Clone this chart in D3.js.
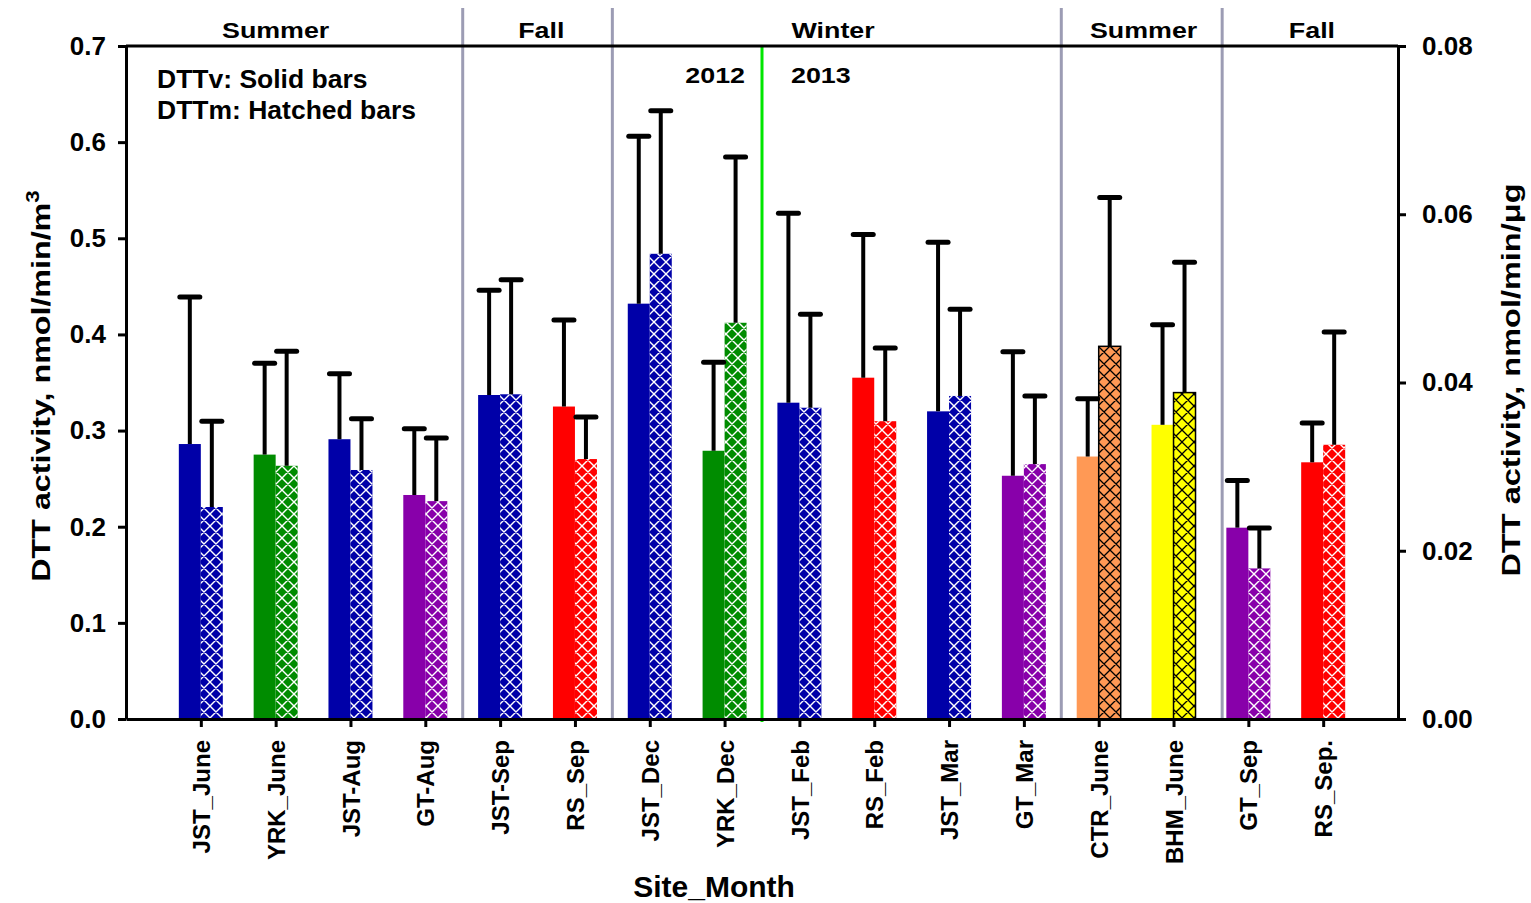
<!DOCTYPE html>
<html>
<head>
<meta charset="utf-8">
<script src="https://cdn.jsdelivr.net/npm/d3@7"></script>
<style>
    body { margin: 0; background: #fff; }
    text { font-family: "Liberation Sans", Arial, sans-serif; font-weight: bold; fill: #000; }
</style>
</head>
<body>
<div id="chart"></div>
<script>
const MARGIN = { top: 46, right: 133, bottom: 184, left: 126 };
const width = 1531;
const height = 903;

// site / month categories
const sites = ["JST_June", "YRK_June", "JST-Aug", "GT-Aug", "JST-Sep", "RS_Sep", "JST_Dec", "YRK_Dec",
    "JST_Feb", "RS_Feb", "JST_Mar", "GT_Mar", "CTR_June", "BHM_June", "GT_Sep", "RS_Sep."];

// DTTv (volume normalized, left axis) - solid bars
const dttvMean = [0.286, 0.275, 0.291, 0.233, 0.337, 0.325, 0.432, 0.279, 0.329, 0.355, 0.320, 0.253, 0.273, 0.306, 0.199, 0.267];
const dttvSd   = [0.153, 0.095, 0.068, 0.069, 0.109, 0.090, 0.174, 0.092, 0.197, 0.149, 0.176, 0.129, 0.060, 0.104, 0.049, 0.041];

// DTTm (mass normalized, right axis) - hatched bars
const dttmMean = [0.0252, 0.0301, 0.0296, 0.0259, 0.0386, 0.0309, 0.0553, 0.0471, 0.0370, 0.0354, 0.0384, 0.0303, 0.0443, 0.0388, 0.0179, 0.0326];
const dttmSd   = [0.0102, 0.0136, 0.0061, 0.0075, 0.0136, 0.0050, 0.0170, 0.0197, 0.0111, 0.0087, 0.0103, 0.0081, 0.0177, 0.0155, 0.0048, 0.0134];

const barColors = ["#0000a8", "#008c00", "#0000a8", "#8800aa", "#0000a8", "#ff0000", "#0000a8", "#008c00",
    "#0000a8", "#ff0000", "#0000a8", "#8800aa", "#ff9955", "#ffff00", "#8800aa", "#ff0000"];
// hatch ink: white lines on most bars, black lines (+ outline) on the light ones
const hatchInk = ["white", "white", "white", "white", "white", "white", "white", "white",
    "white", "white", "white", "white", "black", "black", "white", "white"];

const leftTicks = [0, 0.1, 0.2, 0.3, 0.4, 0.5, 0.6, 0.7];
const rightTicks = [0, 0.02, 0.04, 0.06, 0.08];

// season annotation (positions in category index units)
const seasonLabels = ["Summer", "Fall", "Winter", "Summer", "Fall"];
const seasonPos = [1.0, 4.55, 8.45, 12.6, 14.85];
const seasonBreaks = [3.5, 5.5, 11.5, 13.65];
const yearBreak = 7.5;
const yearLabels = ["2012", "2013"];
const legendLines = ["DTTv: Solid bars", "DTTm: Hatched bars"];

const BAR_W = 22;

const innerWidth = width - MARGIN.left - MARGIN.right;
const innerHeight = height - MARGIN.top - MARGIN.bottom;

const svg = d3.select("#chart").append("svg")
    .attr("width", width)
    .attr("height", height);

const defs = svg.append("defs");
["white", "black"].forEach((ink) => {
    const p = defs.append("pattern")
        .attr("id", `hatch-${ink}`)
        .attr("patternUnits", "userSpaceOnUse")
        .attr("width", 12)
        .attr("height", 12);
    p.append("path")
        .attr("d", "M0,0L12,12M12,0L0,12M-1,1L1,-1M11,13L13,11M-1,11L1,13M11,-1L13,1")
        .style("stroke", ink)
        .style("stroke-width", ink === "white" ? 1.4 : 1.3)
        .style("fill", "none");
});

const inner = svg.append("g")
    .attr("transform", `translate(${MARGIN.left},${MARGIN.top})`);

const x = d3.scaleLinear().domain([-1, sites.length]).range([0, innerWidth]);
const yL = d3.scaleLinear().domain([0, 0.7]).range([innerHeight, 0]);
const yR = d3.scaleLinear().domain([0, 0.08]).range([innerHeight, 0]);

// season separators
inner.selectAll("line.season-sep")
    .data(seasonBreaks)
    .join("line")
    .attr("class", "season-sep")
    .attr("x1", (d) => x(d)).attr("x2", (d) => x(d))
    .attr("y1", -38).attr("y2", innerHeight)
    .style("stroke", "#9c9cb4")
    .style("stroke-width", 3);

inner.append("line")
    .attr("x1", x(yearBreak)).attr("x2", x(yearBreak))
    .attr("y1", 0).attr("y2", innerHeight + 3)
    .style("stroke", "#00e600")
    .style("stroke-width", 3);

// Solid bars (DTTv)
inner.selectAll("rect.solid-bar")
    .data(dttvMean)
    .join("rect")
    .attr("class", "solid-bar")
    .attr("x", (d, i) => x(i) - BAR_W)
    .attr("y", (d) => yL(d))
    .attr("width", BAR_W)
    .attr("height", (d) => innerHeight - yL(d))
    .style("fill", (d, i) => barColors[i]);

// Hatched bars (DTTm)
const hatched = inner.selectAll("g.hatch-bar")
    .data(dttmMean)
    .join("g")
    .attr("class", "hatch-bar");

hatched.append("rect")
    .attr("x", (d, i) => x(i))
    .attr("y", (d) => yR(d))
    .attr("width", BAR_W)
    .attr("height", (d) => innerHeight - yR(d))
    .style("fill", (d, i) => barColors[i]);

hatched.append("rect")
    .attr("x", (d, i) => x(i))
    .attr("y", (d) => yR(d))
    .attr("width", BAR_W)
    .attr("height", (d) => innerHeight - yR(d))
    .style("fill", (d, i) => `url(#hatch-${hatchInk[i]})`)
    .style("stroke", (d, i) => hatchInk[i] === "black" ? "#000" : "none")
    .style("stroke-width", 1.5);

// Error bars (upper only)
function drawErrors(cls, means, sds, yScale, offset) {
    const g = inner.selectAll(`g.${cls}`)
        .data(means)
        .join("g")
        .attr("class", cls);
    g.append("line")
        .attr("x1", (d, i) => x(i) + offset).attr("x2", (d, i) => x(i) + offset)
        .attr("y1", (d) => yScale(d))
        .attr("y2", (d, i) => yScale(d + sds[i]))
        .style("stroke", "#000").style("stroke-width", 4);
    g.append("line")
        .attr("x1", (d, i) => x(i) + offset - 10).attr("x2", (d, i) => x(i) + offset + 10)
        .attr("y1", (d, i) => yScale(d + sds[i]))
        .attr("y2", (d, i) => yScale(d + sds[i]))
        .style("stroke", "#000").style("stroke-width", 5)
        .style("stroke-linecap", "round");
}
drawErrors("err-v", dttvMean, dttvSd, yL, -BAR_W / 2);
drawErrors("err-m", dttmMean, dttmSd, yR, BAR_W / 2);

// Axes
function styleAxis(g, size) {
    g.attr("font-family", null).attr("font-size", null);
    g.select(".domain").style("stroke-width", 3);
    g.selectAll(".tick line").style("stroke-width", 3);
    g.selectAll(".tick text").style("font-size", `${size}px`).attr("fill", "#000");
}

const leftAxis = inner.append("g")
    .attr("class", "y-axis")
    .call(d3.axisLeft(yL).tickValues(leftTicks).tickFormat(d3.format(".1f")).tickSize(8).tickSizeOuter(0).tickPadding(12));
styleAxis(leftAxis, 26);

const rightAxis = inner.append("g")
    .attr("class", "y-axis-right")
    .attr("transform", `translate(${innerWidth},0)`)
    .call(d3.axisRight(yR).tickValues(rightTicks).tickFormat(d3.format(".2f")).tickSize(8).tickSizeOuter(0).tickPadding(16));
styleAxis(rightAxis, 26);

const bottomAxis = inner.append("g")
    .attr("class", "x-axis")
    .attr("transform", `translate(0,${innerHeight})`)
    .call(d3.axisBottom(x).tickValues(d3.range(sites.length)).tickFormat((i) => sites[i]).tickSize(8).tickSizeOuter(0));
styleAxis(bottomAxis, 24);
bottomAxis.selectAll(".tick text")
    .attr("text-anchor", "end")
    .attr("x", 0)
    .attr("y", 0)
    .attr("dy", "0.36em")
    .attr("transform", "translate(0,21) rotate(-90)");

inner.append("line")
    .attr("x1", 0).attr("x2", innerWidth)
    .attr("y1", 0).attr("y2", 0)
    .style("stroke", "#000").style("stroke-width", 3);

// Season + year labels
inner.selectAll("text.season")
    .data(seasonLabels)
    .join("text")
    .attr("class", "season")
    .attr("text-anchor", "middle")
    .attr("transform", (d, i) => `translate(${x(seasonPos[i])},-8) scale(1.22,1)`)
    .style("font-size", "22px")
    .text((d) => d);

inner.append("text")
    .attr("text-anchor", "end")
    .attr("transform", `translate(${x(yearBreak) - 17},37) scale(1.22,1)`)
    .style("font-size", "22px")
    .text(yearLabels[0]);
inner.append("text")
    .attr("text-anchor", "start")
    .attr("transform", `translate(${x(yearBreak) + 29},37) scale(1.22,1)`)
    .style("font-size", "22px")
    .text(yearLabels[1]);

// Legend note
inner.selectAll("text.legend")
    .data(legendLines)
    .join("text")
    .attr("class", "legend")
    .attr("transform", (d, i) => `translate(31,${42 + i * 31}) scale(1.06,1)`)
    .style("font-size", "25px")
    .text((d) => d);

// Axis titles
svg.append("text")
    .attr("text-anchor", "middle")
    .attr("x", MARGIN.left + x(6.86))
    .attr("y", 897)
    .style("font-size", "30px")
    .text("Site_Month");

const leftTitle = svg.append("text")
    .attr("text-anchor", "middle")
    .attr("transform", "translate(50,386) rotate(-90) scale(1.24,1)")
    .style("font-size", "26px");
leftTitle.append("tspan").text("DTT activity, nmol/min/m");
leftTitle.append("tspan").attr("dy", -11).style("font-size", "18px").text("3");

svg.append("text")
    .attr("text-anchor", "middle")
    .attr("transform", "translate(1520,380) rotate(-90) scale(1.25,1)")
    .style("font-size", "26px")
    .text("DTT activity, nmol/min/\u03bcg");
</script>
</body>
</html>
